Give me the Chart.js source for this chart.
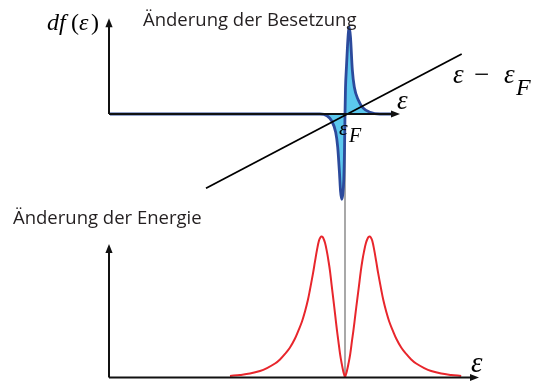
<!DOCTYPE html>
<html>
<head>
<meta charset="utf-8">
<script src="https://cdn.jsdelivr.net/npm/chart.js@4.4.1/dist/chart.umd.min.js"></script>
<style>
  body { margin: 0; background: #fff; }
  #grafica { display: block; }
</style>
</head>
<body>
<canvas id="grafica" width="540" height="383"></canvas>
<script>
// Änderung der Besetzung (oben), x in Einheiten von (eps - epsF)
const besetzungX = [-23.5, -3.5, -2.5, -1.8, -1.33, -0.93, -0.73, -0.55, -0.45, -0.33, -0.22, -0.12, -0.05, 0,
                    0.05, 0.15, 0.25, 0.35, 0.43, 0.55, 0.73, 0.93, 1.33, 1.8, 2.5, 3.5, 5.0];
const besetzungY = [0, 0, 0, -0.02, -0.08, -0.21, -0.38, -0.68, -0.88, -0.98, -0.92, -0.75, -0.42, 0,
                    0.3, 0.55, 0.78, 0.95, 1.0, 0.88, 0.51, 0.31, 0.16, 0.07, 0.02, 0, 0];

// Änderung der Energie (unten), linke und rechte Hälfte
const energieLinksX = [-11.5, -10.5, -9.5, -8.5, -7.8, -7.0, -6.5, -6.0, -5.5, -5.0, -4.7, -4.3, -4.0, -3.7, -3.5, -3.2,
                       -3.0, -2.8, -2.6, -2.45, -2.33, -2.2, -2.0, -1.8, -1.67, -1.5, -1.33, -1.15, -1.0, -0.8, -0.67,
                       -0.5, -0.33, -0.17, 0];
const energieLinksY = [0.011, 0.018, 0.028, 0.046, 0.067, 0.099, 0.128, 0.167, 0.213, 0.277, 0.326, 0.397, 0.468, 0.553,
                       0.624, 0.738, 0.823, 0.905, 0.972, 0.995, 1.0, 0.993, 0.955, 0.889, 0.835, 0.755, 0.652, 0.546,
                       0.454, 0.333, 0.262, 0.17, 0.099, 0.043, 0];
const energieRechtsX = [0, 0.18, 0.35, 0.53, 0.7, 0.84, 1.05, 1.21, 1.4, 1.58, 1.75, 1.89, 2.1, 2.31, 2.45, 2.57, 2.72,
                        2.92, 3.12, 3.32, 3.62, 3.82, 4.12, 4.42, 4.82, 5.12, 5.62, 6.12, 6.62, 7.12, 7.92, 8.62, 9.62,
                        10.62, 11.62];
const energieRechtsY = [0, 0.043, 0.099, 0.17, 0.262, 0.333, 0.454, 0.546, 0.652, 0.755, 0.835, 0.889, 0.955, 0.993, 1.0,
                        0.995, 0.972, 0.905, 0.823, 0.738, 0.624, 0.553, 0.468, 0.397, 0.326, 0.277, 0.213, 0.167,
                        0.128, 0.099, 0.067, 0.046, 0.028, 0.018, 0.011];

// Gerade eps - epsF
const geradeX = [-13.9, 11.67];
const geradeY = [-0.854, 0.69];

// Hilfslinie bei epsF (in Einheiten der unteren Achse)
const hilfX = [0, 0];
const hilfY = [0, 1.869];

// Achsen
const obenAchseX = [-23.6, 5.5];
const obenAchseY = [0, 1.1];
const untenAchseX = [-23.6, 13.4];
const untenAchseY = [0, 0.947];

function punkte(xs, ys) {
    return xs.map((x, i) => ({ x: x, y: ys[i] }));
}

function pfeil(ctx, x1, y1, x2, y2) {
    const ang = Math.atan2(y2 - y1, x2 - x1);
    const lang = 9, breit = 3.6;
    ctx.beginPath();
    ctx.moveTo(x1, y1);
    ctx.lineTo(x2 - Math.cos(ang) * lang * 0.8, y2 - Math.sin(ang) * lang * 0.8);
    ctx.stroke();
    ctx.beginPath();
    ctx.moveTo(x2, y2);
    ctx.lineTo(x2 - Math.cos(ang) * lang - Math.sin(ang) * breit, y2 - Math.sin(ang) * lang + Math.cos(ang) * breit);
    ctx.lineTo(x2 - Math.cos(ang) * lang + Math.sin(ang) * breit, y2 - Math.sin(ang) * lang - Math.cos(ang) * breit);
    ctx.closePath();
    ctx.fill();
}

// Textstücke an festen Stellen schreiben: [text, font, x, y]
function formel(ctx, teile) {
    teile.forEach(t => {
        ctx.font = t[1];
        ctx.fillText(t[0], t[2], t[3]);
    });
}

const serifIt = 'italic 27px "Liberation Serif"';
const serif = '27px "Liberation Serif"';
const klein = 'italic 24px "Liberation Serif"';
const df = 'italic 24px "Liberation Serif"';
const dfGerade = '24px "Liberation Serif"';

const achsenPlugin = {
    id: 'achsen',
    afterDraw(chart) {
        const ctx = chart.ctx;
        const sx = chart.scales.x, yt = chart.scales.yTop, yb = chart.scales.yBot;
        ctx.save();
        ctx.strokeStyle = '#111';
        ctx.fillStyle = '#111';
        ctx.lineWidth = 2;
        // obere Achsen
        pfeil(ctx, sx.getPixelForValue(obenAchseX[0]), yt.getPixelForValue(obenAchseY[0]),
              sx.getPixelForValue(obenAchseX[0]), yt.getPixelForValue(obenAchseY[1]));
        pfeil(ctx, sx.getPixelForValue(obenAchseX[0]), yt.getPixelForValue(obenAchseY[0]),
              sx.getPixelForValue(obenAchseX[1]), yt.getPixelForValue(obenAchseY[0]));
        // untere Achsen
        pfeil(ctx, sx.getPixelForValue(untenAchseX[0]), yb.getPixelForValue(untenAchseY[0]),
              sx.getPixelForValue(untenAchseX[0]), yb.getPixelForValue(untenAchseY[1]));
        pfeil(ctx, sx.getPixelForValue(untenAchseX[0]), yb.getPixelForValue(untenAchseY[0]),
              sx.getPixelForValue(untenAchseX[1]), yb.getPixelForValue(untenAchseY[0]));

        // Beschriftungen
        ctx.fillStyle = '#231f20';
        ctx.textBaseline = 'alphabetic';
        ctx.font = '18.5px "Open Sans"';
        ctx.fillText('Änderung der Besetzung', 143, 26);
        ctx.fillText('Änderung der Energie', 13, 224);

        ctx.fillStyle = '#000';
        formel(ctx, [['d', df, 47, 30], ['f', df, 59, 30], ['(', dfGerade, 71, 30], ['ε', df, 79, 30], [')', dfGerade, 91, 30]]);
        formel(ctx, [['ε', serifIt, 397, 109]]);
        formel(ctx, [['ε', 'italic 29px "Liberation Serif"', 471, 372]]);
        formel(ctx, [['ε', serifIt, 453, 83], ['−', serif, 474, 83], ['ε', serifIt, 504, 83], ['F', klein, 516, 95]]);
        formel(ctx, [['ε', 'italic 22px "Liberation Serif"', 339, 135], ['F', 'italic 20px "Liberation Serif"', 349, 142]]);
        ctx.restore();
    }
};

const linie = {
    showLine: true,
    pointRadius: 0
};

const ctx = document.getElementById('grafica').getContext('2d');
const grafica = new Chart(ctx, {
    type: 'scatter',
    data: {
        datasets: [
            {
                ...linie,
                label: 'Besetzung',
                data: punkte(besetzungX, besetzungY),
                yAxisID: 'yTop',
                borderColor: '#2c4a9c',
                borderWidth: 2.8,
                backgroundColor: 'rgb(92, 200, 238)',
                fill: 'origin',
                cubicInterpolationMode: 'monotone',
                order: 3
            },
            {
                ...linie,
                label: 'eps - epsF',
                data: punkte(geradeX, geradeY),
                yAxisID: 'yTop',
                borderColor: '#000',
                borderWidth: 1.8,
                order: 2
            },
            {
                ...linie,
                label: 'Energie links',
                data: punkte(energieLinksX, energieLinksY),
                yAxisID: 'yBot',
                borderColor: '#e8262c',
                borderWidth: 2,
                tension: 0.4,
                order: 1
            },
            {
                ...linie,
                label: 'Energie rechts',
                data: punkte(energieRechtsX, energieRechtsY),
                yAxisID: 'yBot',
                borderColor: '#e8262c',
                borderWidth: 2,
                tension: 0.4,
                order: 1
            },
            {
                ...linie,
                label: 'epsF',
                data: punkte(hilfX, hilfY),
                yAxisID: 'yBot',
                borderColor: '#7a7a7a',
                borderWidth: 1.3,
                order: 4
            }
        ]
    },
    options: {
        responsive: false,
        animation: false,
        layout: { padding: 0 },
        scales: {
            x: { type: 'linear', min: -34.5, max: 19.5, display: false },
            yTop: { type: 'linear', position: 'left', min: -269 / 87, max: 114 / 87, display: false },
            yBot: { type: 'linear', position: 'left', min: -5.5 / 141, max: 377.5 / 141, display: false }
        },
        plugins: {
            legend: { display: false },
            tooltip: { enabled: false }
        }
    },
    plugins: [achsenPlugin]
});
</script>
</body>
</html>
